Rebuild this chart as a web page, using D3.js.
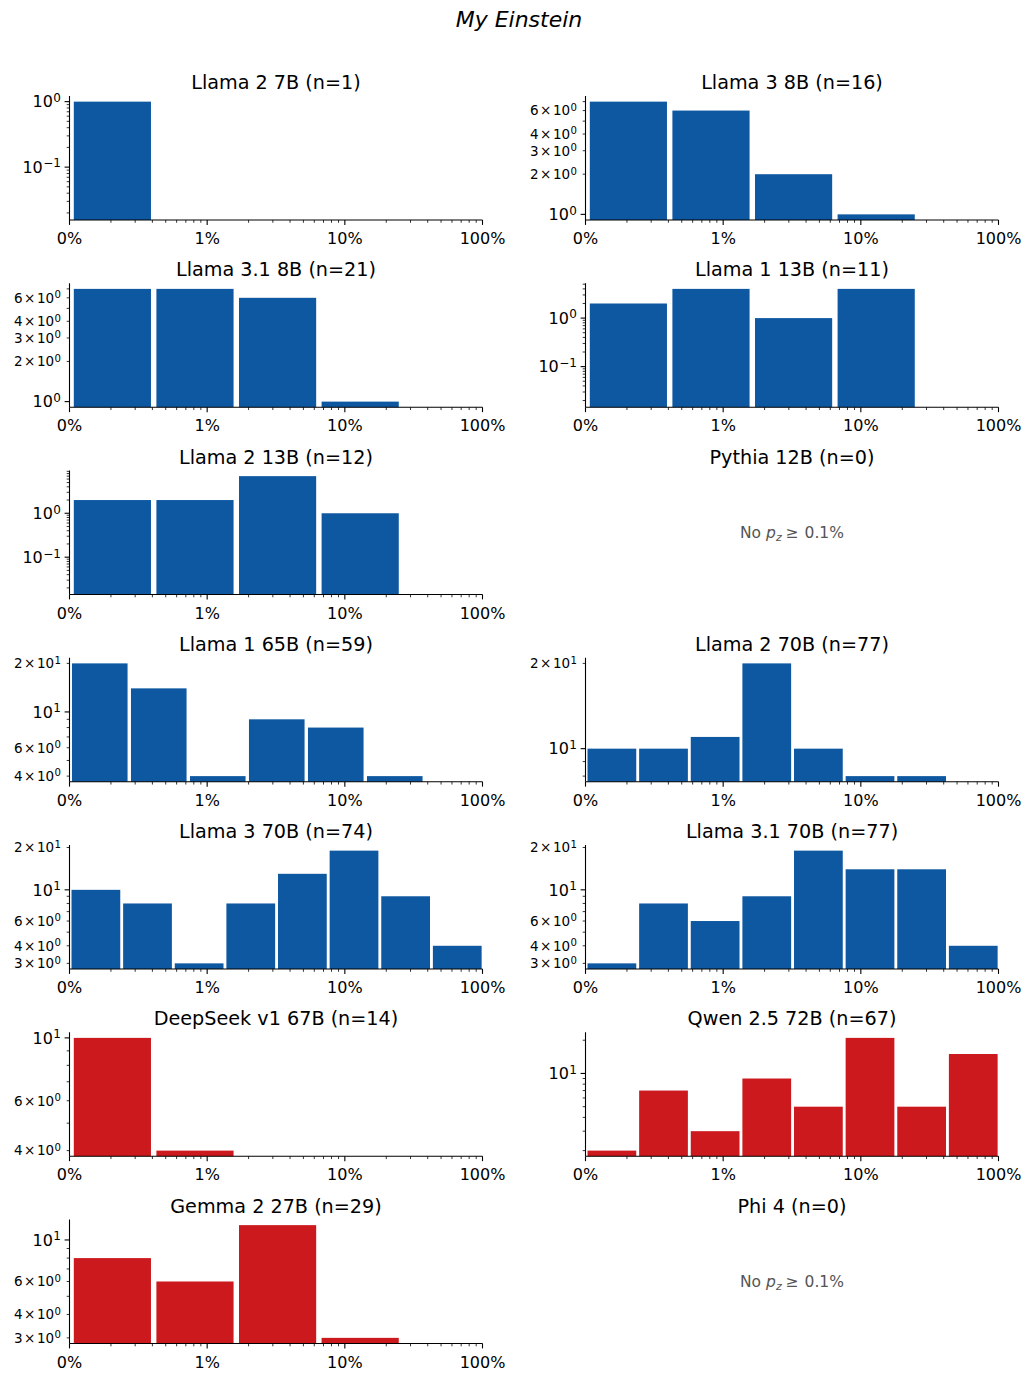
<!DOCTYPE html>
<html>
<head>
<meta charset="utf-8">
<script src="https://cdn.jsdelivr.net/npm/d3@7"></script>
<style>
  body { margin: 0; background: #fff; }
  svg { font-family: "DejaVu Sans", sans-serif; }
</style>
</head>
<body>
<svg id="chart" width="1032" height="1378"></svg>
<script>
// panel titles, row by row (left, right)
const titles = [
  "Llama 2 7B (n=1)", "Llama 3 8B (n=16)",
  "Llama 3.1 8B (n=21)", "Llama 1 13B (n=11)",
  "Llama 2 13B (n=12)", "Pythia 12B (n=0)",
  "Llama 1 65B (n=59)", "Llama 2 70B (n=77)",
  "Llama 3 70B (n=74)", "Llama 3.1 70B (n=77)",
  "DeepSeek v1 67B (n=14)", "Qwen 2.5 72B (n=67)",
  "Gemma 2 27B (n=29)", "Phi 4 (n=0)"
];

// histogram counts per panel (log-spaced bins from 0.1% to 100%)
const counts = [
  [1, 0, 0, 0, 0], [7, 6, 2, 1, 0],
  [7, 7, 6, 1, 0], [2, 4, 1, 4, 0],
  [2, 2, 7, 1, 0], [],
  [20, 14, 4, 9, 8, 4, 0], [10, 10, 11, 20, 10, 8, 8, 0],
  [10, 8, 3, 8, 13, 19, 9, 4], [3, 8, 6, 9, 19, 14, 14, 4],
  [10, 4, 0, 0, 0], [2, 7, 3, 9, 5, 21, 5, 15],
  [8, 6, 12, 3, 0], []
];

// which family colour each panel uses
const family = [
  "llama", "llama", "llama", "llama", "llama", "llama", "llama",
  "llama", "llama", "llama", "other", "other", "other", "other"
];

// lowest y value seen on panels whose axis reaches far below 1
const yFloor = [0.019, null, null, 0.019, 0.019, null, null,
  null, null, null, null, null, null, null];

const xTickValues = [0.001, 0.01, 0.1, 1];
const xTickLabels = ["0%", "1%", "10%", "100%"];

const colors = { llama: "#0e58a2", other: "#cb191e" };

const svg = d3.select("#chart");
const colX = [69.5, 585.5], panelW = 413;
const rowTop0 = 96, rowStep = 187.25, panelH = 124;
const rwidth = 0.95;

svg.append("text")
  .attr("x", 519).attr("y", 27)
  .attr("text-anchor", "middle")
  .attr("font-size", 22)
  .attr("font-style", "italic")
  .text("My Einstein");

const supNum = e => (e < 0 ? "\u2212" + Math.abs(e) : "" + e);

function yLabel(sel, v, isMajor, fs) {
  const e = Math.floor(Math.log10(v) + 1e-9);
  const m = Math.round(v / Math.pow(10, e));
  const t = sel.append("text")
    .attr("text-anchor", "end")
    .attr("font-size", fs)
    .attr("dy", "0.36em");
  if (isMajor) {
    t.append("tspan").text("10");
  } else {
    t.append("tspan").text(m);
    t.append("tspan").attr("dx", 1.5).text("\u00d7");
    t.append("tspan").attr("dx", 1.5).text("10");
  }
  t.append("tspan").attr("dx", 0.5).attr("dy", "-0.45em").attr("font-size", fs * 0.75).text(supNum(e));
  return t;
}

titles.forEach((title, i) => {
  const col = i % 2, row = Math.floor(i / 2);
  const x0 = colX[col], top = rowTop0 + row * rowStep;
  const g = svg.append("g").attr("transform", `translate(${x0},${top})`);

  g.append("text")
    .attr("x", panelW / 2).attr("y", -7)
    .attr("text-anchor", "middle")
    .attr("font-size", 19.2)
    .text(title);

  const data = counts[i];
  if (!data.length) {
    const t = g.append("text")
      .attr("x", panelW / 2).attr("y", panelH / 2 + 5)
      .attr("text-anchor", "middle")
      .attr("font-size", 15.5)
      .attr("fill", "#555");
    t.append("tspan").text("No ");
    t.append("tspan").attr("font-style", "italic").text("p");
    t.append("tspan").attr("font-style", "italic").attr("font-size", 11).attr("dy", 3).text("z");
    t.append("tspan").attr("dy", -3).attr("dx", 4).text("\u2265");
    t.append("tspan").attr("dx", 1).text(" 0.1%");
    return;
  }

  const nb = data.length;
  const edges = d3.range(nb + 1).map(k => Math.pow(10, -3 + 3 * k / nb));

  const x = d3.scaleLog().domain([0.001, 1]).range([0, panelW]);

  const pos = data.filter(d => d > 0);
  let lo = Math.log10(d3.min(pos));
  if (yFloor[i] != null) lo = Math.min(lo, Math.log10(yFloor[i]));
  const hi = Math.log10(d3.max(pos));
  const mg = 0.05 * (hi - lo);
  const y = d3.scaleLog()
    .domain([Math.pow(10, lo - mg), Math.pow(10, hi + mg)])
    .range([panelH, 0]);

  // bars, same shrink rule as matplotlib's rwidth
  const bins = data.map((c, k) => {
    const w = edges[k + 1] - edges[k];
    const left = edges[k] + (1 - rwidth) / 2 * w;
    return { c, left, right: left + rwidth * w };
  }).filter(d => d.c > 0);

  g.selectAll("rect.bar")
    .data(bins)
    .join("rect")
    .attr("class", "bar")
    .attr("x", d => x(d.left))
    .attr("width", d => x(d.right) - x(d.left))
    .attr("y", d => y(d.c))
    .attr("height", d => panelH - y(d.c))
    .attr("fill", colors[family[i]]);

  // x axis
  const xa = g.append("g").attr("transform", `translate(0,${panelH})`);
  xa.append("line").attr("x1", 0).attr("x2", panelW).attr("stroke", "#000").attr("stroke-width", 1.1);
  const xMinor = [];
  [0.001, 0.01, 0.1].forEach(d => d3.range(2, 10).forEach(k => xMinor.push(k * d)));
  xa.selectAll("line.xmin").data(xMinor).join("line")
    .attr("x1", d => x(d)).attr("x2", d => x(d))
    .attr("y1", 0).attr("y2", 2.8).attr("stroke", "#000").attr("stroke-width", 0.8);
  xa.selectAll("line.xmaj").data(xTickValues).join("line")
    .attr("x1", d => x(d)).attr("x2", d => x(d))
    .attr("y1", 0).attr("y2", 4.9).attr("stroke", "#000").attr("stroke-width", 1.1);
  xa.selectAll("text").data(xTickValues).join("text")
    .attr("x", d => x(d)).attr("y", 24)
    .attr("text-anchor", "middle")
    .attr("font-size", 16)
    .text((d, k) => xTickLabels[k]);

  // y axis
  const ya = g.append("g");
  ya.append("line").attr("y1", 0).attr("y2", panelH).attr("stroke", "#000").attr("stroke-width", 1.1);
  const [d0, d1] = y.domain();
  const numdec = Math.log10(d1) - Math.log10(d0);
  const yTicks = [];
  for (let e = Math.floor(Math.log10(d0)); e <= Math.ceil(Math.log10(d1)); e++) {
    for (let k = 1; k <= 9; k++) {
      const v = k * Math.pow(10, e);
      if (v >= d0 * 0.9999 && v <= d1 * 1.0001) yTicks.push({ v, k });
    }
  }
  const subset = [2, 3, 4, 6];
  yTicks.forEach(t => {
    const major = t.k === 1;
    const yy = y(t.v);
    ya.append("line")
      .attr("x1", 0).attr("x2", major ? -4.9 : -2.8)
      .attr("y1", yy).attr("y2", yy)
      .attr("stroke", "#000").attr("stroke-width", major ? 1.1 : 0.8);
    let show = major;
    if (!major && numdec <= 1) show = numdec > 0.4 ? subset.includes(t.k) : true;
    if (show) {
      yLabel(ya, t.v, major, major ? 16 : 13.5)
        .attr("x", -8.5).attr("y", yy);
    }
  });
});
</script>
</body>
</html>
